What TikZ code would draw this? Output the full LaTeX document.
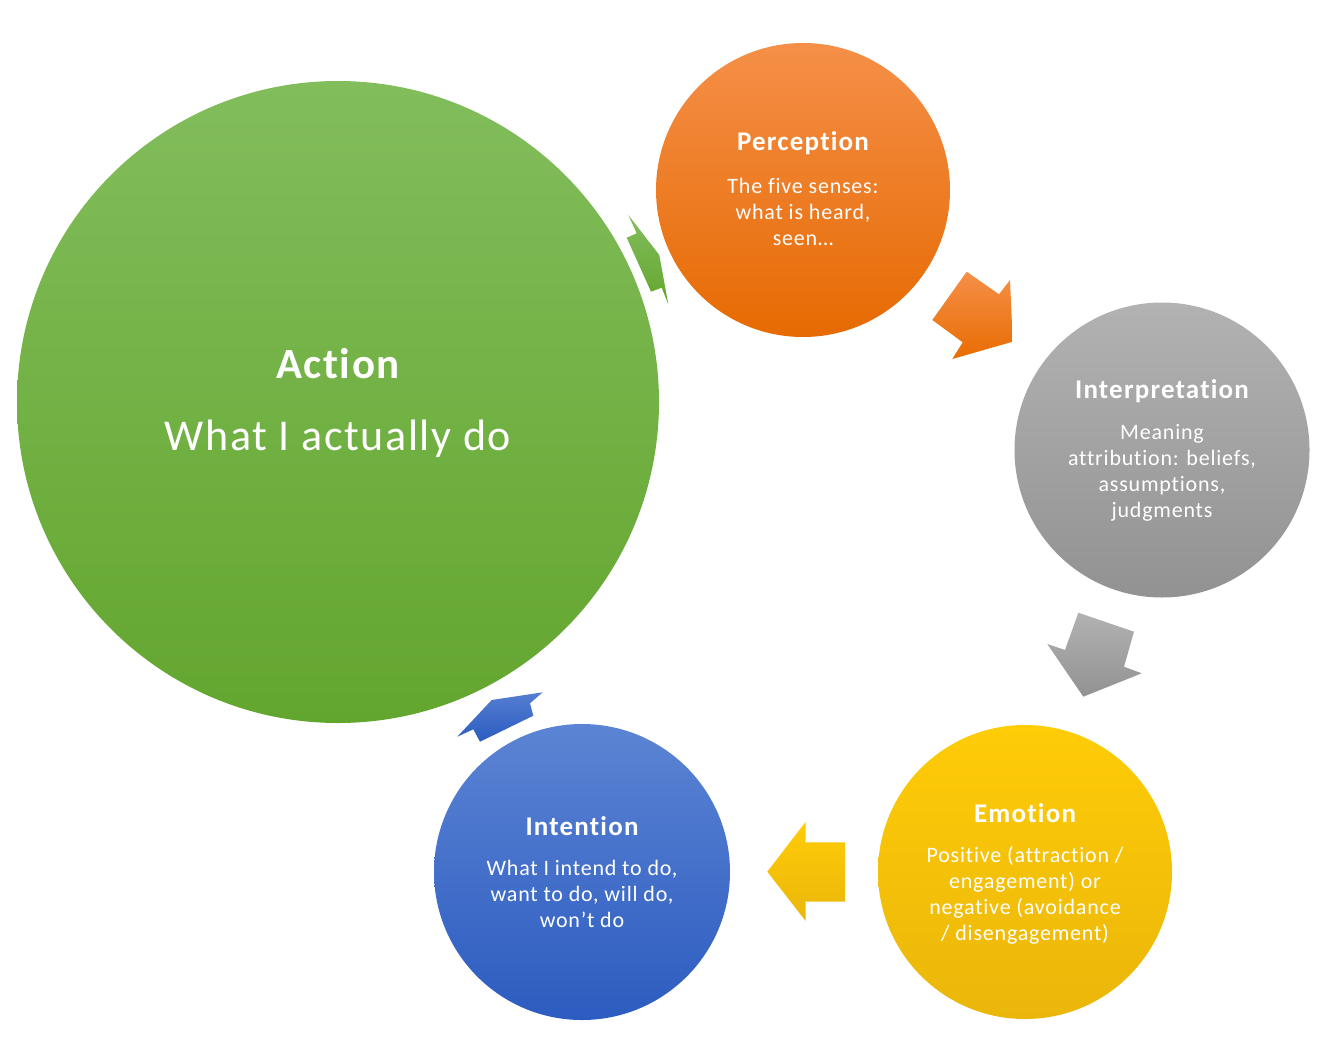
\documentclass[tikz,border=0pt]{standalone}
\usepackage{fontspec}
\setmainfont{Carlito}
\newfontfamily\bodyf{Carlito}[LetterSpace=3.6, Ligatures=NoCommon]
\newfontfamily\ttlf{Carlito}[LetterSpace=4.5, Ligatures=NoCommon]
\newfontfamily\bigf{Carlito}[LetterSpace=3.7, Ligatures=NoCommon]
\definecolor{gT}{RGB}{130,189,92}
\definecolor{gB}{RGB}{99,166,46}
\definecolor{oT}{RGB}{245,143,72}
\definecolor{oB}{RGB}{230,106,2}
\definecolor{yT}{RGB}{255,204,8}
\definecolor{yB}{RGB}{234,182,10}
\definecolor{bT}{RGB}{92,132,212}
\definecolor{bB}{RGB}{44,92,192}
\definecolor{kT}{RGB}{178,178,178}
\definecolor{kB}{RGB}{146,146,146}
\begin{document}
\begin{tikzpicture}[x=1pt,y=-1pt,
  txt/.style={text=white, align=center, inner sep=0pt, font=\bodyf\fontsize{22}{26}\selectfont},
  ttl/.style={text=white, inner sep=0pt, font=\ttlf\bfseries\fontsize{27}{30}\selectfont},
  bigttl/.style={text=white, inner sep=0pt, font=\bigf\bfseries\fontsize{43}{48}\selectfont},
  bigtxt/.style={text=white, inner sep=0pt, font=\bigf\fontsize{44}{48}\selectfont},
  circ/.style={circle, inner sep=0pt, minimum size=#1}]
\useasboundingbox (0,0) rectangle (1343,1057);
% circles
\node[circ=642, top color=gT, bottom color=gB] (action) at (338,402) {};
\node[circ=294, top color=oT, bottom color=oB] (perc) at (803,190) {};
\node[circ=295, top color=kT, bottom color=kB] (interp) at (1162,450) {};
\node[circ=294, top color=yT, bottom color=yB] (emo) at (1025,872) {};
\node[circ=296, top color=bT, bottom color=bB] (intent) at (582,872) {};
% arrows
\shade[top color=gT, bottom color=gB] (628.3,215) -- (659.3,255) -- (668.3,304.3) -- (661.7,287.7) -- (651,291.7) -- (626.7,237.7) -- (636.7,233.3) -- cycle;
\shade[top color=oT, bottom color=oB!90!orange] (966.7,271.7) -- (999,294.3) -- (1010,280) -- (1012.7,341.7) -- (952.3,359) -- (962.7,342.3) -- (932.3,320) -- cycle;
\shade[top color=kT, bottom color=kB] (1078.3,612.7) -- (1134,631.7) -- (1124,666.7) -- (1141.7,673.3) -- (1083.3,696.7) -- (1047.3,644) -- (1065,650) -- cycle;
\shade[top color=yT, bottom color=yB] (805.7,821.7) -- (805.7,842.3) -- (845,842.3) -- (845,901.7) -- (805.7,901.7) -- (805.7,921) -- (767.3,871.7) -- cycle;
\shade[top color=bT!85!bB, bottom color=bB] (457.3,736.7) -- (491.7,700) -- (542.7,692.3) -- (530,703.3) -- (533.3,715.7) -- (480,741.7) -- (473.3,729.3) -- cycle;
% texts
\node[bigttl] (actT) at (338,364) {Action};
\node[bigtxt] (actB) at (338,439) {What I actually do};
\node[ttl] (percT) at (803,143) {Perception};
\node[txt] (percB) at (803,212) {The five senses:\\what is heard,\\seen…};
\node[ttl] (interpT) at (1162,391) {Interpretation};
\node[txt] (interpB) at (1162,473) {Meaning\\attribution: beliefs,\\assumptions,\\judgments};
\node[ttl] (emoT) at (1025,813) {Emotion};
\node[txt] (emoB) at (1025,895) {Positive (attraction /\\engagement) or\\negative (avoidance\\/ disengagement)};
\node[ttl] (intT) at (582,826) {Intention};
\node[txt] (intB) at (582,894) {What I intend to do,\\want to do, will do,\\won’t do};
\end{tikzpicture}
\end{document}
